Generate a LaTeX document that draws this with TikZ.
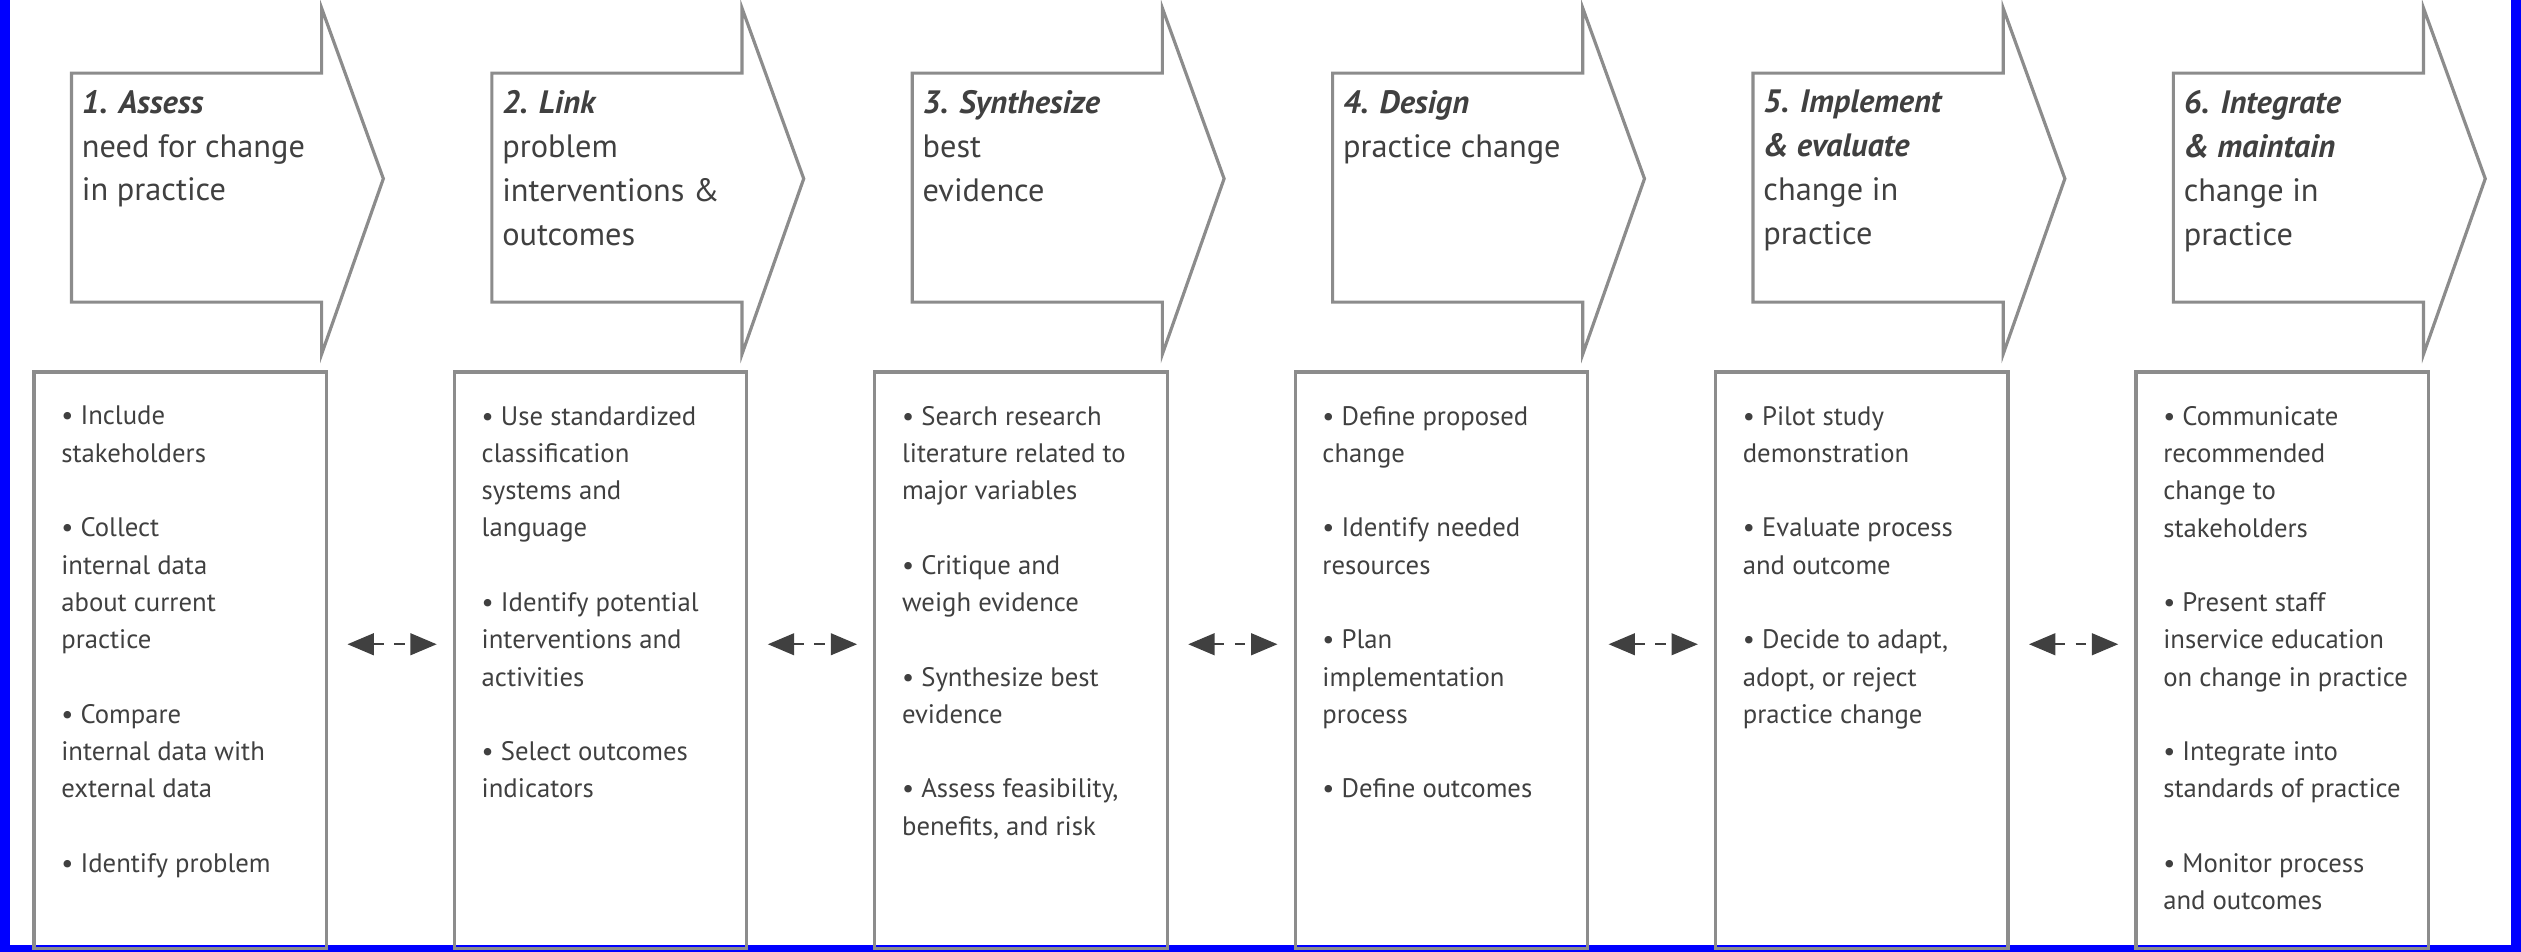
\documentclass[tikz,border=0pt]{standalone}
\usepackage{fontspec}
\setmainfont{PT Sans}
\usetikzlibrary{positioning,arrows}
\tikzset{
  stepbox/.style={rectangle,draw=black!45,line width=0.9pt,minimum width=180*0.01624cm,
    minimum height=355*0.01624cm,anchor=north west,inner sep=0pt},
  boxtext/.style={anchor=north west,text width=2.8cm,align=flush left,font=\fontsize{7.6}{10.6}\selectfont,
    text=black!75,inner sep=0pt},
  headtext/.style={anchor=north west,text width=2.6cm,align=flush left,font=\fontsize{9.2}{12.5}\selectfont,
    text=black!75,inner sep=0pt},
  headarrow/.style={draw=black!45,line width=0.9pt,fill=white},
  link/.style={dashed,black!75,line width=0.7pt,>=triangle 45,<->}
}
\begin{document}
\begin{tikzpicture}[x=0.01624cm,y=-0.01624cm]
  \useasboundingbox (0,0) rectangle (1552,586);
  % frame
  \draw[blue,line width=4pt] (2,0) -- (2,586);
  \draw[blue,line width=4pt] (1550,0) -- (1550,586);
  \draw[blue,line width=3pt] (0,585) -- (1552,585);

  % step arrows
  \foreach \i/\t/\s in {1/1. Assess/need for change\\in practice,
                        2/2. Link/problem\\interventions \&\\outcomes,
                        3/3. Synthesize/best\\evidence,
                        4/4. Design/practice change,
                        5/5. Implement\\\& evaluate/change in\\practice,
                        6/6. Integrate\\\& maintain/change in\\practice} {
    \pgfmathsetmacro{\ox}{(\i-1)*258.8}
    \begin{scope}[xshift=\ox*0.01624cm]
      \draw[headarrow] (44,45) -- (198,45) -- (198,5) -- (236,110) -- (198,218) -- (198,186)
        -- (44,186) -- cycle;
      \node[headtext] (h\i) at (50,55) {\textbf{\textit{\t}}\\\s};
      \node[stepbox] (b\i) at (20,228) {};
    \end{scope}
  }

  % box contents
  \node[boxtext] (t1) at ([shift={(8pt,-10pt)}]b1.north west)
    {\textbullet\ Include\\stakeholders\\[10.6pt]
     \textbullet\ Collect\\internal data\\about current\\practice\\[10.6pt]
     \textbullet\ Compare\\internal data with\\external data\\[10.6pt]
     \textbullet\ Identify problem};
  \node[boxtext] (t2) at ([shift={(8pt,-10pt)}]b2.north west)
    {\textbullet\ Use standardized\\classification\\systems and\\language\\[10.6pt]
     \textbullet\ Identify potential\\interventions and\\activities\\[10.6pt]
     \textbullet\ Select outcomes\\indicators};
  \node[boxtext] (t3) at ([shift={(8pt,-10pt)}]b3.north west)
    {\textbullet\ Search research\\literature related to\\major variables\\[10.6pt]
     \textbullet\ Critique and\\weigh evidence\\[10.6pt]
     \textbullet\ Synthesize best\\evidence\\[10.6pt]
     \textbullet\ Assess feasibility,\\benefits, and risk};
  \node[boxtext] (t4) at ([shift={(8pt,-10pt)}]b4.north west)
    {\textbullet\ Define proposed\\change\\[10.6pt]
     \textbullet\ Identify needed\\resources\\[10.6pt]
     \textbullet\ Plan\\implementation\\process\\[10.6pt]
     \textbullet\ Define outcomes};
  \node[boxtext] (t5) at ([shift={(8pt,-10pt)}]b5.north west)
    {\textbullet\ Pilot study\\demonstration\\[10.6pt]
     \textbullet\ Evaluate process\\and outcome\\[10.6pt]
     \textbullet\ Decide to adapt,\\adopt, or reject\\practice change};
  \node[boxtext] (t6) at ([shift={(8pt,-10pt)}]b6.north west)
    {\textbullet\ Communicate\\recommended\\change to\\stakeholders\\[10.6pt]
     \textbullet\ Present staff\\inservice education\\on change in practice\\[10.6pt]
     \textbullet\ Integrate into\\standards of practice\\[10.6pt]
     \textbullet\ Monitor process\\and outcomes};

  % links between steps
  \foreach \a/\b in {1/2,2/3,3/4,4/5,5/6}
    \draw[link,shorten <=12*0.01624cm,shorten >=10*0.01624cm]
      ([yshift=0.16cm]b\a.east) -- ([yshift=0.16cm]b\b.west);
\end{tikzpicture}
\end{document}
